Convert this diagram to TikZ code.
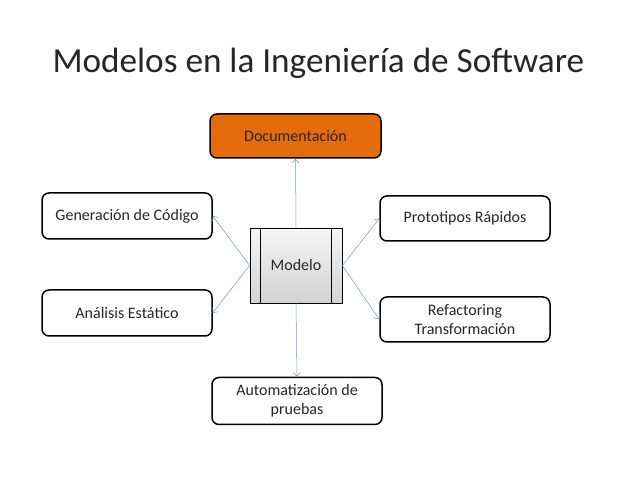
\documentclass[tikz,border=0pt]{standalone}
\usepackage{fontspec}
\setmainfont{Carlito}
\usetikzlibrary{arrows.meta,calc}
\definecolor{arrowblue}{RGB}{110,150,200}
\definecolor{docorange}{RGB}{228,108,10}
\begin{document}
\begin{tikzpicture}[x=1pt,y=1pt,
    every node/.style={font=\fontsize{16}{19}\selectfont, text=black!85},
    box/.style={draw=black, line width=1.5pt, rounded corners=7pt, fill=white,
      minimum width=170pt, minimum height=45pt, align=center, inner sep=2pt},
    link/.style={draw=arrowblue, line width=0.5pt, -{Straight Barb[length=4pt,width=7pt]}}]
  \useasboundingbox (0,0) rectangle (638,479);

  \node[anchor=base west, font=\fontsize{35.2}{40}\selectfont] (title) at (49,406)
    {Modelos en la Ingeniería de Software};

  % central model
  \node[draw=black, line width=0.8pt, top color=gray!8, bottom color=gray!35,
    minimum width=92pt, minimum height=75pt] (modelo) at (296,213.5) {Modelo};
  \draw[line width=0.8pt] ($(modelo.north west)+(11,0)$) -- ($(modelo.south west)+(11,0)$);
  \draw[line width=0.8pt] ($(modelo.north east)+(-11,0)$) -- ($(modelo.south east)+(-11,0)$);

  % surrounding boxes
  \node[box, fill=docorange, minimum width=171pt, minimum height=44pt] (doc) at (295.5,343) {Documentación};
  \node[box, minimum height=46pt] (gen) at (127,263) {Generación de Código};
  \node[box, minimum height=46pt] (ana) at (127,166) {Análisis Estático};
  \node[box] (proto) at (465,260.5) {Prototipos Rápidos};
  \node[box] (refac) at (465,159.5) {Refactoring\\Transformación};
  \node[box, minimum height=47pt] (auto) at (297,78) {Automatización de\\pruebas};

  % links
  \draw[link] (modelo.north) -- (doc.south);
  \draw[link] (modelo.south) -- (auto.north);
  \draw[link] (modelo.west) -- (gen.east);
  \draw[link] (modelo.west) -- (ana.east);
  \draw[link] (modelo.east) -- (proto.west);
  \draw[link] (modelo.east) -- (refac.west);
\end{tikzpicture}
\end{document}
